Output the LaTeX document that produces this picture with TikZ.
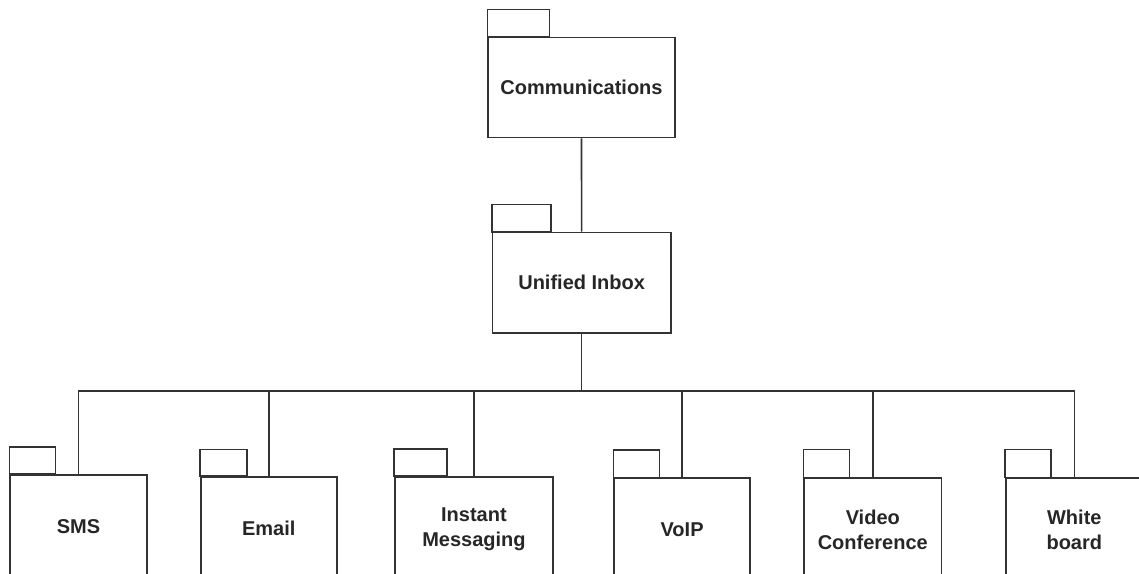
\documentclass[tikz,border=0pt]{standalone}
\usepackage{fontspec}
\setmainfont{Liberation Sans}
\begin{document}
\begin{tikzpicture}[x=1pt,y=-1pt,
  line/.style={draw=black!80,line width=1.6pt},
  pkg/.style={line,rectangle,anchor=north west,inner sep=0pt,
    font=\bfseries\fontsize{20}{25}\selectfont,text=black!85,align=center},
  pkgtab/.style={line,line join=miter}]
\useasboundingbox (0,0) rectangle (1139,573);
\clip (0,0) rectangle (1139,573);

% packages: body node, then its tab sitting on the top-left corner
\node[pkg,minimum width=186.7pt,minimum height=100pt] (comm) at (487.3,36.7) {Communications};
\draw[pkgtab] (comm.north west) rectangle ++(62,-27.4);

\node[pkg,minimum width=178.3pt,minimum height=100.6pt] (inbox) at (491.7,231.7) {Unified Inbox};
\draw[pkgtab] (inbox.north west) rectangle ++(59,-27.4);

\node[pkg,minimum width=136.7pt,minimum height=104pt] (sms) at (9.3,474) {SMS};
\draw[pkgtab] (sms.north west) rectangle ++(46,-27.3);

\node[pkg,minimum width=136pt,minimum height=104pt] (email) at (200,476) {Email};
\draw[pkgtab] (email.north west) rectangle ++(46.7,-26.7);

\node[pkg,minimum width=158.3pt,minimum height=104pt] (im) at (394,476) {Instant\\Messaging};
\draw[pkgtab] (im.north west) rectangle ++(52.7,-27);

\node[pkg,minimum width=136pt,minimum height=104pt] (voip) at (613.3,477.3) {VoIP};
\draw[pkgtab] (voip.north west) rectangle ++(46,-27.6);

\node[pkg,minimum width=137.4pt,minimum height=104pt] (video) at (803.3,477.3) {Video\\Conference};
\draw[pkgtab] (video.north west) rectangle ++(46,-28);

\node[pkg,minimum width=137pt,minimum height=104pt] (wb) at (1005,477.3) {White\\board};
\draw[pkgtab] (wb.north west) rectangle ++(45.7,-28);

% connectors
\coordinate (bus) at (581,391);
\draw[line] (comm.south) -- (inbox.north);
\draw[line] (inbox.south) -- (inbox.south |- bus);
\draw[line] (sms.north) |- (bus -| wb.north) -- (wb.north);
\draw[line] (email.north) -- (email.north |- bus);
\draw[line] (im.north) -- (im.north |- bus);
\draw[line] (voip.north) -- (voip.north |- bus);
\draw[line] (video.north) -- (video.north |- bus);
\end{tikzpicture}
\end{document}
